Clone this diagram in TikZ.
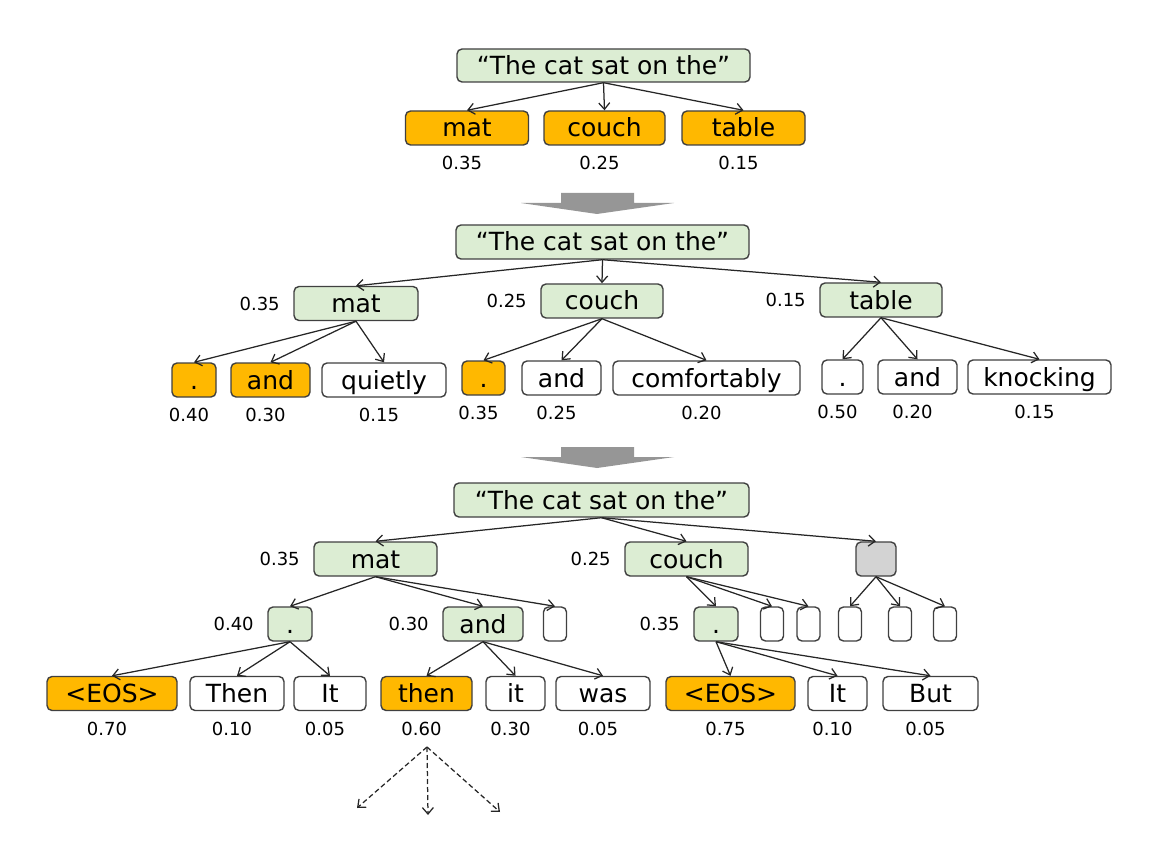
\documentclass[tikz,border=0pt]{standalone}
\usepackage{fontspec}
\setmainfont{DejaVu Sans}
\usetikzlibrary{positioning,arrows.meta}

\definecolor{keptgreen}{RGB}{220,237,211}
\definecolor{beamorange}{RGB}{255,184,0}
\definecolor{prunedgray}{RGB}{211,211,211}
\definecolor{stagegray}{RGB}{150,150,150}

\tikzset{
  tok/.style={draw=black!75, line width=1.4pt, rounded corners=5pt, minimum height=34pt,
    inner sep=0pt, text height=18pt, text depth=0pt, font=\fontsize{25}{30}\selectfont},
  kept/.style={tok, fill=keptgreen},
  best/.style={tok, fill=beamorange},
  cand/.style={tok, fill=white},
  blank/.style={tok, fill=white, minimum width=23pt},
  pruned/.style={tok, fill=prunedgray, minimum width=40pt},
  prob/.style={inner sep=2pt, font=\fontsize{18}{20}\selectfont},
  under/.style={prob, node distance=35pt, below of=#1, xshift=-5pt},
}

\begin{document}
\begin{tikzpicture}[x=1pt, y=-1pt, line width=1.25pt, draw=black!85,
    >={Straight Barb[length=6.5pt,width=11pt]}]
	\useasboundingbox (0,0) rectangle (1162,842);

	% step 1
	\node (R1) [kept, minimum width=293pt, minimum height=33pt] at (603.5,65.5) {“The cat sat on the”};
	\node (mat1) [best, minimum width=123pt] at (467,128) {mat};
	\node (couch1) [best, minimum width=121pt] at (604.5,128) {couch};
	\node (table1) [best, minimum width=123pt] at (743.5,128) {table};
	\node (pmat1) [under=mat1] {0.35};
	\node (pcouch1) [under=couch1] {0.25};
	\node (ptable1) [under=table1] {0.15};
	\draw[->] (R1.south) -- (mat1.north);
	\draw[->] (R1.south) -- (couch1.north);
	\draw[->] (R1.south) -- (table1.north);

	% stage arrows
	\foreach \y in {193,447}
		\fill[stagegray] (561,\y) -- (634,\y) -- (634,\y+10) -- (674,\y+10) -- (597,\y+21)
			-- (521,\y+10) -- (561,\y+10) -- cycle;

	% step 2
	\node (R2) [kept, minimum width=293pt] at (602.5,242) {“The cat sat on the”};
	\node (mat2) [kept, minimum width=124pt] at (356,303.5) {mat};
	\node (couch2) [kept, minimum width=122pt] at (602,301) {couch};
	\node (table2) [kept, minimum width=122pt] at (881,300) {table};
	\node (pmat2) [prob, left=11pt of mat2] {0.35};
	\node (pcouch2) [prob, left=11pt of couch2] {0.25};
	\node (ptable2) [prob, left=11pt of table2] {0.15};
	\node (dotA) [best, minimum width=44pt] at (194,380) {.};
	\node (andA) [best, minimum width=79pt] at (270.5,380) {and};
	\node (quietly) [cand, minimum width=124pt] at (384,380) {quietly};
	\node (dotB) [best, minimum width=43pt] at (483.5,378) {.};
	\node (andB) [cand, minimum width=79pt] at (561.5,378) {and};
	\node (comfortably) [cand, minimum width=187pt] at (706.5,378) {comfortably};
	\node (dotC) [cand, minimum width=41pt] at (842.5,377) {.};
	\node (andC) [cand, minimum width=79pt] at (917.5,377) {and};
	\node (knocking) [cand, minimum width=143pt] at (1039.5,377) {knocking};
	\node (pdotA) [under=dotA] {0.40};
	\node (pandA) [under=andA] {0.30};
	\node (pquietly) [under=quietly] {0.15};
	\node (pdotB) [under=dotB] {0.35};
	\node (pandB) [under=andB] {0.25};
	\node (pcomfortably) [under=comfortably] {0.20};
	\node (pdotC) [under=dotC] {0.50};
	\node (pandC) [under=andC] {0.20};
	\node (pknocking) [under=knocking] {0.15};
	\draw[->] (R2.south) -- (mat2.north);
	\draw[->] (R2.south) -- (couch2.north);
	\draw[->] (R2.south) -- (table2.north);
	\draw[->] (mat2.south) -- (dotA.north);
	\draw[->] (mat2.south) -- (andA.north);
	\draw[->] (mat2.south) -- (quietly.north);
	\draw[->] (couch2.south) -- (dotB.north);
	\draw[->] (couch2.south) -- (andB.north);
	\draw[->] (couch2.south) -- (comfortably.north);
	\draw[->] (table2.south) -- (dotC.north);
	\draw[->] (table2.south) -- (andC.north);
	\draw[->] (table2.south) -- (knocking.north);

	% step 3
	\node (R3) [kept, minimum width=295pt] at (601.5,500) {“The cat sat on the”};
	\node (mat3) [kept, minimum width=123pt] at (375.5,559) {mat};
	\node (couch3) [kept, minimum width=123pt] at (686.5,559) {couch};
	\node (hid) [pruned] at (876,559) {};
	\node (pmat3) [prob, left=11pt of mat3] {0.35};
	\node (pcouch3) [prob, left=11pt of couch3] {0.25};
	\node (dotD) [kept, minimum width=44pt] at (290,624) {.};
	\node (andD) [kept, minimum width=80pt] at (483,624) {and};
	\node (eD) [blank] at (555,624) {};
	\node (dotE) [kept, minimum width=44pt] at (716,624) {.};
	\node (eE1) [blank] at (772,624) {};
	\node (eE2) [blank] at (808.5,624) {};
	\node (eH1) [blank] at (850,624) {};
	\node (eH2) [blank] at (900,624) {};
	\node (eH3) [blank] at (945,624) {};
	\node (pdotD) [prob, left=11pt of dotD] {0.40};
	\node (pandD) [prob, left=11pt of andD] {0.30};
	\node (pdotE) [prob, left=11pt of dotE] {0.35};
	\node (eosD) [best, minimum width=130pt] at (112,693.5) {<EOS>};
	\node (ThenD) [cand, minimum width=94pt] at (237,693.5) {Then};
	\node (ItD) [cand, minimum width=72pt] at (330,693.5) {It};
	\node (thenD) [best, minimum width=91pt] at (426.5,693.5) {then};
	\node (itD) [cand, minimum width=59pt] at (515.5,693.5) {it};
	\node (wasD) [cand, minimum width=94pt] at (603,693.5) {was};
	\node (eosE) [best, minimum width=129pt] at (730.5,693.5) {<EOS>};
	\node (ItE) [cand, minimum width=59pt] at (837.5,693.5) {It};
	\node (ButE) [cand, minimum width=95pt] at (930.5,693.5) {But};
	\node (peosD) [under=eosD] {0.70};
	\node (pThenD) [under=ThenD] {0.10};
	\node (pItD) [under=ItD] {0.05};
	\node (pthenD) [under=thenD] {0.60};
	\node (pitD) [under=itD] {0.30};
	\node (pwasD) [under=wasD] {0.05};
	\node (peosE) [under=eosE] {0.75};
	\node (pItE) [under=ItE] {0.10};
	\node (pButE) [under=ButE] {0.05};
	\draw[->] (R3.south) -- (mat3.north);
	\draw[->] (R3.south) -- (couch3.north);
	\draw[->] (R3.south) -- (hid.north);
	\draw[->] (mat3.south) -- (dotD.north);
	\draw[->] (mat3.south) -- (andD.north);
	\draw[->] (mat3.south) -- (eD.north);
	\draw[->] (couch3.south) -- (dotE.north);
	\draw[->] (couch3.south) -- (eE1.north);
	\draw[->] (couch3.south) -- (eE2.north);
	\draw[->] (hid.south) -- (eH1.north);
	\draw[->] (hid.south) -- (eH2.north);
	\draw[->] (hid.south) -- (eH3.north);
	\draw[->] (dotD.south) -- (eosD.north);
	\draw[->] (dotD.south) -- (ThenD.north);
	\draw[->] (dotD.south) -- (ItD.north);
	\draw[->] (andD.south) -- (thenD.north);
	\draw[->] (andD.south) -- (itD.north);
	\draw[->] (andD.south) -- (wasD.north);
	\draw[->] (dotE.south) -- (eosE.north);
	\draw[->] (dotE.south) -- (ItE.north);
	\draw[->] (dotE.south) -- (ButE.north);

	% continuation
	\coordinate (fork) at (427,747);
	\coordinate (goL) at (357,808);
	\coordinate (goM) at (428,815);
	\coordinate (goR) at (500,812);
	\draw[->, dashed, dash pattern=on 5pt off 3pt] (fork) -- (goL);
	\draw[->, dashed, dash pattern=on 5pt off 3pt] (fork) -- (goM);
	\draw[->, dashed, dash pattern=on 5pt off 3pt] (fork) -- (goR);
\end{tikzpicture}
\end{document}
